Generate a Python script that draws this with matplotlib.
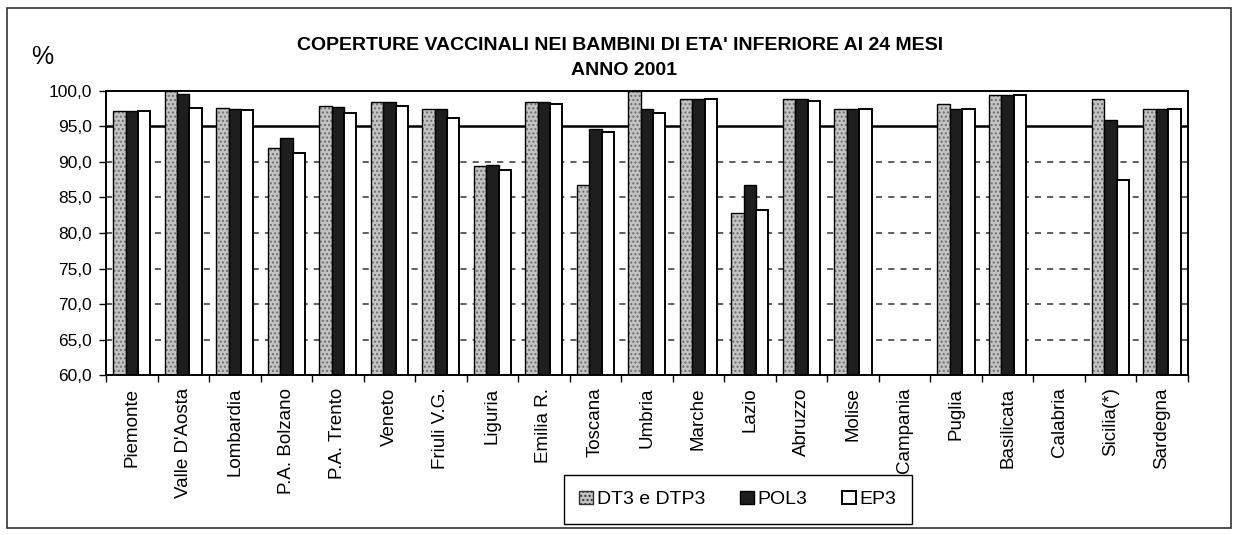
import numpy as np
import matplotlib
matplotlib.use("Agg")
import matplotlib.pyplot as plt
from matplotlib.patches import Rectangle
from matplotlib.ticker import FuncFormatter

plt.rcParams["font.family"] = ["Liberation Sans", "DejaVu Sans"]
plt.rcParams["hatch.linewidth"] = 1.0

# -----------------------------
# Data
# -----------------------------
regions = ["Piemonte", "Valle D'Aosta", "Lombardia", "P.A. Bolzano", "P.A. Trento",
           "Veneto", "Friuli V.G.", "Liguria", "Emilia R.", "Toscana", "Umbria",
           "Marche", "Lazio", "Abruzzo", "Molise", "Campania", "Puglia",
           "Basilicata", "Calabria", "Sicilia(*)", "Sardegna"]

dt3 = [97.2, 100.0, 97.6, 92.0, 97.9, 98.5, 97.4, 89.4, 98.5, 86.8, 100.0,
       98.8, 82.8, 98.8, 97.5, np.nan, 98.1, 99.4, np.nan, 98.8, 97.5]
pol3 = [97.2, 99.6, 97.5, 93.4, 97.8, 98.4, 97.4, 89.6, 98.5, 94.7, 97.4,
        98.8, 86.8, 98.8, 97.5, np.nan, 97.4, 99.4, np.nan, 95.9, 97.4]
ep3 = [97.2, 97.6, 97.3, 91.2, 96.9, 97.9, 96.2, 88.9, 98.1, 94.2, 96.9,
       98.8, 83.2, 98.6, 97.5, np.nan, 97.4, 99.4, np.nan, 87.4, 97.5]

series_names = ["DT3 e DTP3", "POL3", "EP3"]
y_ticks = [60, 65, 70, 75, 80, 85, 90, 95, 100]

# -----------------------------
# Figure
# -----------------------------
fig = plt.figure(figsize=(12.36, 5.35), dpi=100)
ax = fig.add_axes([0.0858, 0.299, 0.961 - 0.0858, 0.830 - 0.299])

# outer frame of the chart
fig.patches.append(Rectangle((0.006, 0.013), 0.990, 0.972, transform=fig.transFigure,
                             fill=False, edgecolor="#333333", linewidth=1.2))

x = np.arange(len(regions))
w = 0.24

# dashed grid, solid reference line at 95
for v in y_ticks[1:-2]:
    ax.axhline(v, color="#333333", linestyle=(0, (4, 4)), linewidth=1.1, zorder=0)
ax.axhline(95, color="black", linewidth=1.8, zorder=1)

# stippled grey bars: texture first, then the black outline on top
ax.bar(x - w, dt3, w, color="#c4c4c4", edgecolor="#6e6e6e", hatch="....",
       linewidth=0, zorder=2)
ax.bar(x - w, dt3, w, fill=False, edgecolor="black", linewidth=1.0, zorder=2)
ax.bar(x, pol3, w, color="#1e1e1e", edgecolor="black",
       linewidth=1.0, zorder=2)
ax.bar(x + w, ep3, w, color="white", edgecolor="black",
       linewidth=1.4, zorder=2)

# legend handles
h_dt3 = Rectangle((0, 0), 1, 1, facecolor="#c4c4c4", edgecolor="#333333", hatch="....")
h_pol3 = Rectangle((0, 0), 1, 1, facecolor="#1e1e1e", edgecolor="black")
h_ep3 = Rectangle((0, 0), 1, 1, facecolor="white", edgecolor="black", linewidth=1.4)

ax.set_ylim(60, 100)
ax.set_xlim(-0.5, len(regions) - 0.5)
ax.set_yticks(y_ticks)
ax.yaxis.set_major_formatter(FuncFormatter(lambda v, p: f"{v:.1f}".replace(".", ",")))
ax.tick_params(axis="y", labelsize=12.5, length=5, width=1, pad=5)

ax.set_xticks(x)
ax.set_xticklabels(regions, rotation=90, fontsize=13.5)
ax.tick_params(axis="x", length=0, pad=9)
ax.set_xticks(np.arange(-0.5, len(regions), 1), minor=True)
ax.tick_params(axis="x", which="minor", length=5, width=1)

for s in ax.spines.values():
    s.set_linewidth(1.4)

# titles
fig.text(0.502, 0.915, "COPERTURE VACCINALI NEI BAMBINI DI ETA' INFERIORE AI 24 MESI",
         ha="center", va="center", fontsize=14, fontweight="bold")
fig.text(0.505, 0.868, "ANNO 2001", ha="center", va="center",
         fontsize=14, fontweight="bold")
fig.text(0.034, 0.893, "%", ha="center", va="center", fontsize=18)

leg = fig.legend([h_dt3, h_pol3, h_ep3], series_names, loc="center",
                 bbox_to_anchor=(0.597, 0.066), ncol=3, fontsize=14,
                 frameon=True, fancybox=False, handlelength=0.7, handleheight=0.7,
                 handletextpad=0.2, columnspacing=1.8, borderpad=0.8,
                 framealpha=1)
leg.get_frame().set_edgecolor("black")
leg.get_frame().set_linewidth(1.0)

plt.savefig("out.png", dpi=100)
plt.close()
